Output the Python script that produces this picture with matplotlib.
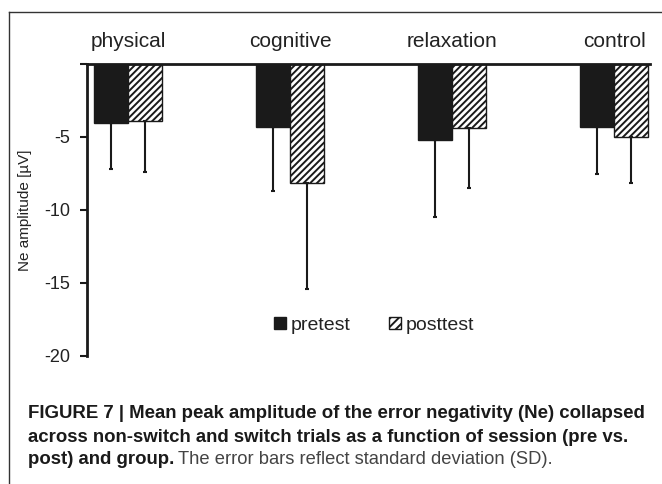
import matplotlib
matplotlib.use('Agg')
import matplotlib.pyplot as plt
from matplotlib.patches import Patch
from matplotlib.lines import Line2D
import numpy as np

plt.rcParams['font.family'] = ['Liberation Sans', 'DejaVu Sans']
plt.rcParams['axes.unicode_minus'] = False
plt.rcParams['hatch.linewidth'] = 1.4

groups = ['physical', 'cognitive', 'relaxation', 'control']
pre_mean = [-4.02, -4.29, -5.20, -4.29]
pre_sd = [3.19, 4.41, 5.30, 3.24]
post_mean = [-3.92, -8.17, -4.40, -5.00]
post_sd = [3.50, 7.25, 4.07, 3.15]
yticks = [-20, -15, -10, -5, 0]
ytick_labels = ['-20', '-15', '-10', '-5', '']

fig = plt.figure(figsize=(6.62, 4.84), dpi=100)
ax = fig.add_axes([0.1314, 0.2645, 0.8506, 0.6033])

x = np.arange(len(groups))
w = 0.21
ax.bar(x - w / 2, pre_mean, w, color='#1a1a1a', edgecolor='#1a1a1a', linewidth=1,
       yerr=[pre_sd, [0] * 4], error_kw=dict(ecolor='#1a1a1a', elinewidth=1.5, capsize=1.5, capthick=1.5))
ax.bar(x + w / 2, post_mean, w, color='white', edgecolor='#1a1a1a', linewidth=1, hatch='/////',
       yerr=[post_sd, [0] * 4], error_kw=dict(ecolor='#1a1a1a', elinewidth=1.5, capsize=1.5, capthick=1.5))

ax.set_xlim(-0.253, 3.222)
ax.set_ylim(-20, 0)
ax.set_yticks(yticks)
ax.set_yticklabels(ytick_labels, fontsize=13, color='#222222')
ax.tick_params(axis='y', direction='out', length=5, width=1.5, pad=7, color='#1a1a1a')

ax.xaxis.tick_top()
ax.set_xticks(x)
ax.set_xticklabels(groups, fontsize=15, color='#222222')
ax.tick_params(axis='x', length=0, pad=9)

ax.spines['right'].set_visible(False)
ax.spines['bottom'].set_visible(False)
for s in ['left', 'top']:
    ax.spines[s].set_linewidth(2)
    ax.spines[s].set_color('#1a1a1a')

ax.set_ylabel('Ne amplitude [µV]', fontsize=11, color='#222222')
ax.yaxis.set_label_coords(-0.0977, 0.5)

handles = [Patch(facecolor='#1a1a1a', edgecolor='#1a1a1a'),
           Patch(facecolor='white', edgecolor='#1a1a1a', hatch='////')]
ax.legend(handles, ['pretest', 'posttest'], ncol=2, frameon=False, fontsize=14,
          loc='center', bbox_to_anchor=(0.51, 0.106), handlelength=0.6, handleheight=0.6,
          handletextpad=0.25, columnspacing=2.0, labelcolor='#222222')

# figure frame (left and top edges)
fig.add_artist(Line2D([9 / 662, 9 / 662], [0, 1 - 12 / 484], transform=fig.transFigure, color='#333333', lw=1))
fig.add_artist(Line2D([9 / 662, 1], [1 - 12 / 484, 1 - 12 / 484], transform=fig.transFigure, color='#333333', lw=1))

# caption
cap_size = 13.4
lines = ['FIGURE 7 | Mean peak amplitude of the error negativity (Ne) collapsed',
         'across non-switch and switch trials as a function of session (pre vs.']
ys = [1 - 413 / 484, 1 - 437 / 484, 1 - 460 / 484]
for t, yy in zip(lines, ys):
    fig.text(28 / 662, yy, t, fontsize=cap_size, fontweight='bold', color='#1a1a1a', va='center')
bold_part = fig.text(28 / 662, ys[2], 'post) and group.', fontsize=cap_size, fontweight='bold',
                     color='#1a1a1a', va='center')
fig.canvas.draw()
bb = bold_part.get_window_extent()
fig.text(bb.x1 / 662 + 4 / 662, ys[2], 'The error bars reflect standard deviation (SD).',
         fontsize=cap_size * 0.99, color='#444444', va='center')

fig.savefig('out.png', dpi=100)
